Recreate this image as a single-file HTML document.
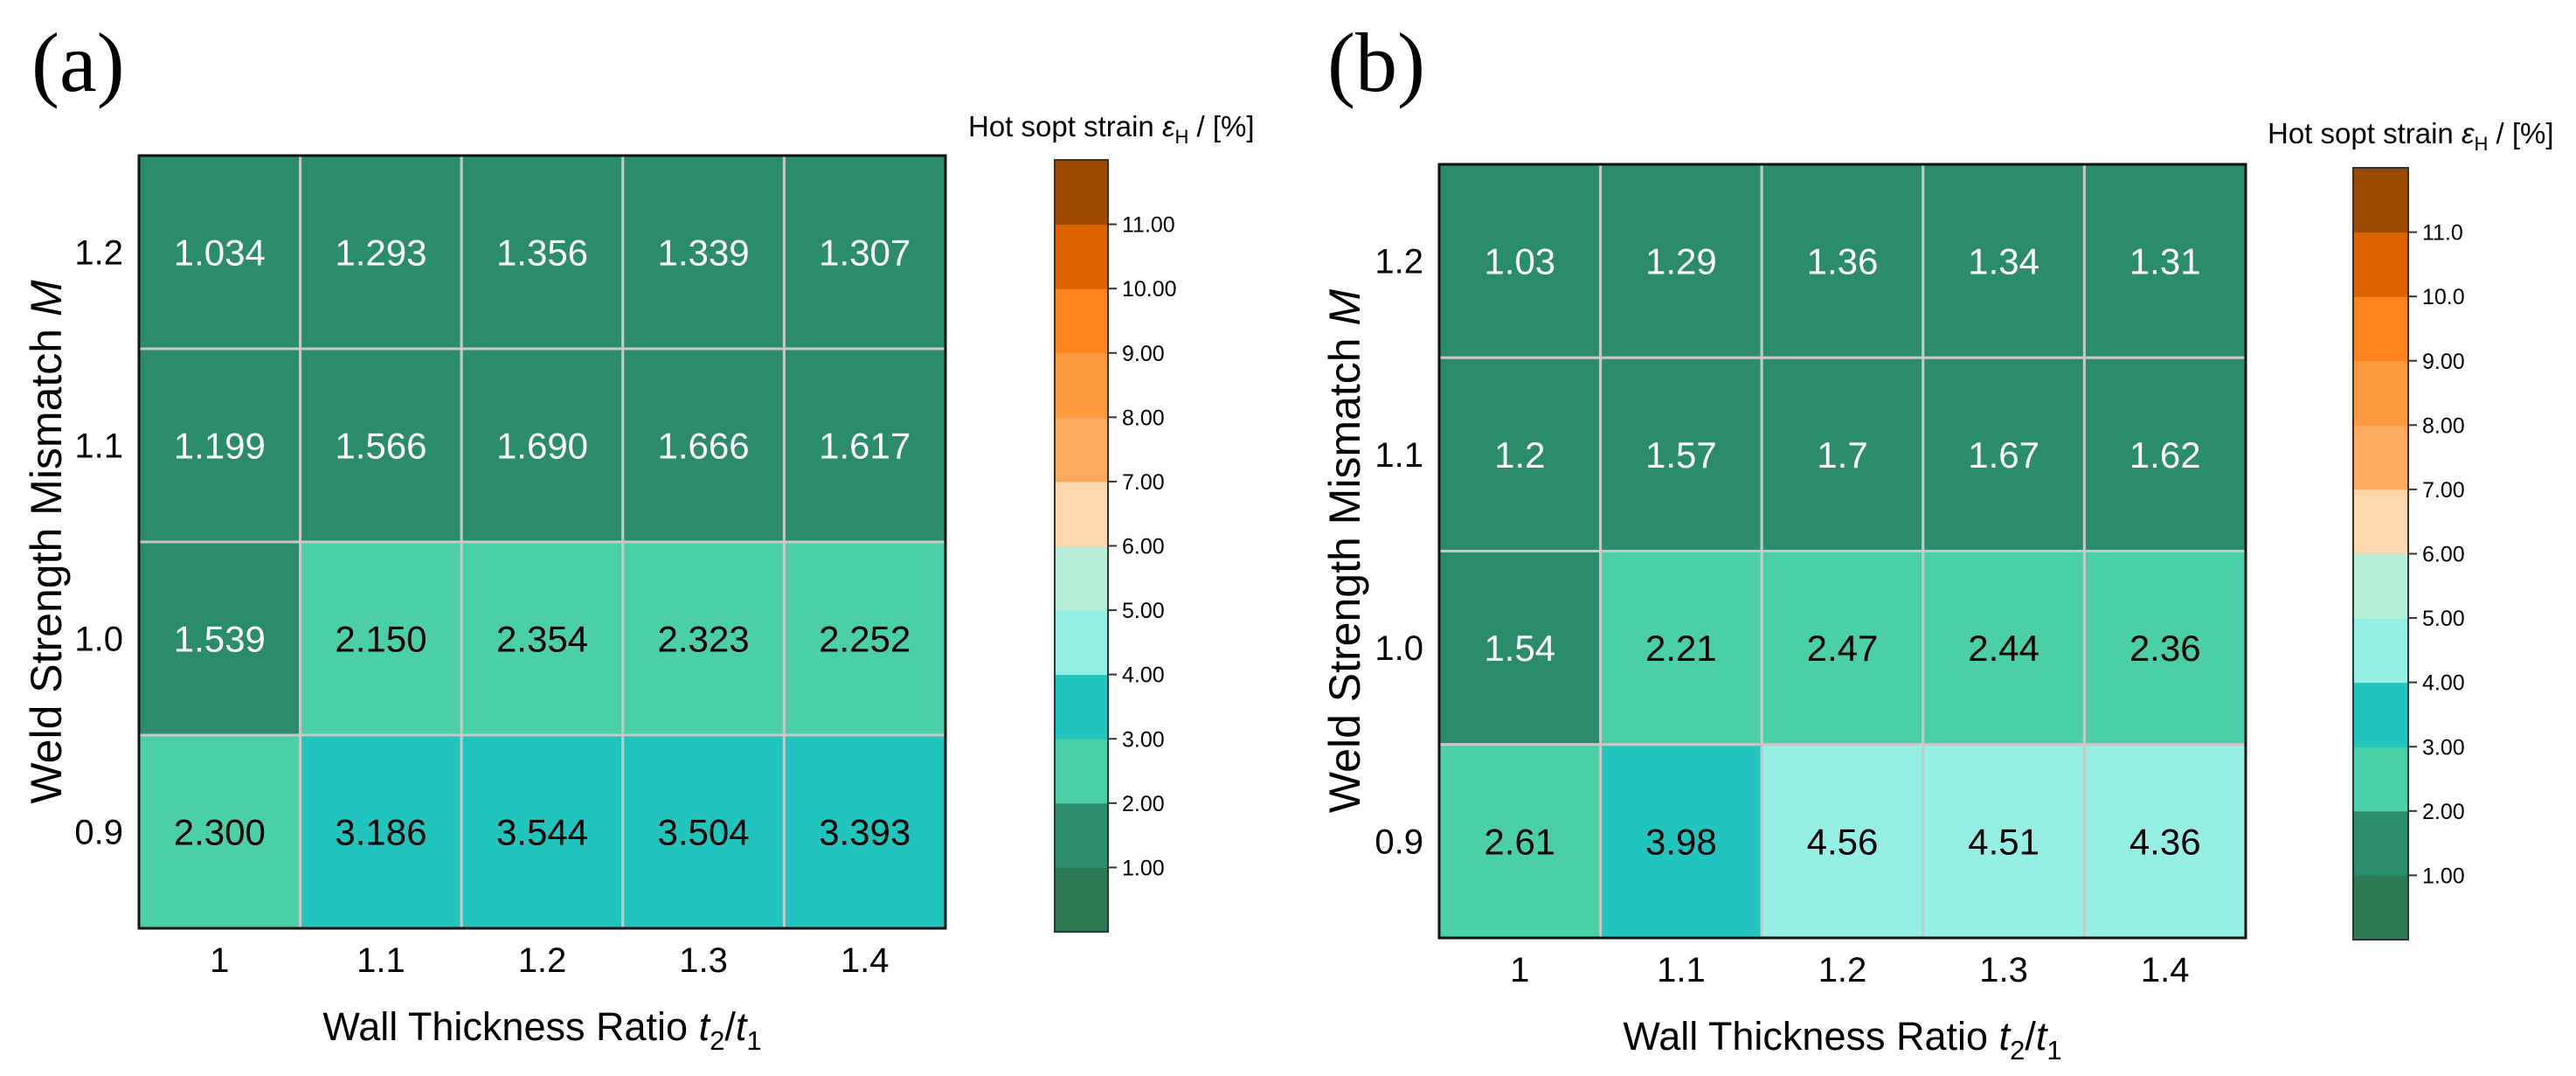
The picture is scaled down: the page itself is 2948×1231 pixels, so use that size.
<!DOCTYPE html>
<html><head><meta charset="utf-8"><style>
html,body{margin:0;padding:0;background:#fff;overflow:hidden;}
svg{display:block;font-family:"Liberation Sans",sans-serif;}
</style></head><body>
<svg id="fig" width="2948" height="1231" viewBox="0 0 2948 1231"></svg>
<script>
const xCats = ["1","1.1","1.2","1.3","1.4"];
const yCats = ["1.2","1.1","1.0","0.9"];
const valuesA = [[1.034,1.293,1.356,1.339,1.307],[1.199,1.566,1.690,1.666,1.617],[1.539,2.150,2.354,2.323,2.252],[2.300,3.186,3.544,3.504,3.393]];
const labelsA = [["1.034","1.293","1.356","1.339","1.307"],["1.199","1.566","1.690","1.666","1.617"],["1.539","2.150","2.354","2.323","2.252"],["2.300","3.186","3.544","3.504","3.393"]];
const valuesB = [[1.03,1.29,1.36,1.34,1.31],[1.2,1.57,1.7,1.67,1.62],[1.54,2.21,2.47,2.44,2.36],[2.61,3.98,4.56,4.51,4.36]];
const labelsB = [["1.03","1.29","1.36","1.34","1.31"],["1.2","1.57","1.7","1.67","1.62"],["1.54","2.21","2.47","2.44","2.36"],["2.61","3.98","4.56","4.51","4.36"]];
const bandColors = ["#2e7a55","#2a8c6c","#4bcfa8","#22c5bd","#96efe5","#b8efd8","#ffd7ae","#fdaa60","#fd9a40","#fd8520","#da6300","#9c4a00"];
const ticksA = ["1.00","2.00","3.00","4.00","5.00","6.00","7.00","8.00","9.00","10.00","11.00"];
const ticksB = ["1.00","2.00","3.00","4.00","5.00","6.00","7.00","8.00","9.00","10.0","11.0"];

const NS="http://www.w3.org/2000/svg";
const svg=document.getElementById('fig');
function mk(tag,attrs,parent,text){const e=document.createElementNS(NS,tag);for(const k in attrs)e.setAttribute(k,attrs[k]);if(text!==undefined)e.textContent=text;(parent||svg).appendChild(e);return e;}
function colorFor(v){return bandColors[Math.max(0,Math.min(11,Math.floor(v)))];}

function panel(cfg){
  const g=mk('g',{});
  
  
  const pl=mk('text',{x:cfg.labX,y:104,'font-size':96,'font-family':'"Liberation Serif",serif'},g,cfg.label);
  
  
  const {L,R,T,B}=cfg;
  const cw=(R-L)/xCats.length, ch=(B-T)/yCats.length;
  const xs=i=>L+i*cw, ys=j=>T+j*ch;
  for(let j=0;j<yCats.length;j++)for(let i=0;i<xCats.length;i++){
    const v=cfg.vals[j][i];
    const r=mk('rect',{x:xs(i),y:ys(j),width:cw,height:ch,fill:colorFor(v),stroke:'#c8c8c8','stroke-width':3},g);
    
    
    const t=mk('text',{x:xs(i)+cw/2,y:ys(j)+ch/2+15,'text-anchor':'middle','font-size':42,fill:v<2?'#fff':'#000'},g,cfg.labs[j][i]);
    
    
  }
  const fr=mk('rect',{x:L,y:T,width:R-L,height:B-T,fill:'none',stroke:'#111','stroke-width':3},g);
  
  
  xCats.forEach((c,i)=>{const t=mk('text',{x:xs(i)+cw/2,y:B+50,'text-anchor':'middle','font-size':40},g,c);
    });
  yCats.forEach((c,j)=>{const t=mk('text',{x:L-18,y:ys(j)+ch/2+14,'text-anchor':'end','font-size':40},g,c);
    });
  const xt=mk('text',{x:(L+R)/2,y:B+128,'text-anchor':'middle','font-size':45},g);
  
  xt.innerHTML='Wall Thickness Ratio <tspan font-style="italic">t</tspan><tspan font-size="31" dy="11">2</tspan><tspan dy="-11">/</tspan><tspan font-style="italic">t</tspan><tspan font-size="31" dy="11">1</tspan>';
  const yt=mk('text',{transform:`translate(${cfg.ytX},${(T+B)/2}) rotate(-90)`,'text-anchor':'middle','font-size':50},g);
  
  yt.innerHTML='Weld Strength Mismatch <tspan font-style="italic">M</tspan>';
  const {cL,cR,cT,cB}=cfg;
  const bh=(cB-cT)/bandColors.length;
  bandColors.forEach((c,k)=>{const r=mk('rect',{x:cL,y:cB-(k+1)*bh,width:cR-cL,height:bh+0.5,fill:c},g);
    });
  const cf=mk('rect',{x:cL,y:cT,width:cR-cL,height:cB-cT,fill:'none',stroke:'#333','stroke-width':2},g);
  
  cfg.ticks.forEach((tk,k)=>{const y=cB-(k+1)*bh;
    mk('line',{x1:cR,x2:cR+10,y1:y,y2:y,stroke:'#333','stroke-width':2},g);
    const t=mk('text',{x:cR+16,y:y+9,'font-size':25},g,tk);
    });
  const ct=mk('text',{x:cfg.ctX,y:cfg.ctY,'font-size':33},g);
  
  ct.innerHTML='Hot sopt strain <tspan font-style="italic">ε</tspan><tspan font-size="22" dy="8">H</tspan><tspan dy="-8"> / [%]</tspan>';
}
panel({name:'panel-a',label:'(a)',labX:36,L:159,R:1082,T:178,B:1062,ytX:70,vals:valuesA,labs:labelsA,cL:1207,cR:1268,cT:183,cB:1066,ticks:ticksA,ctX:1108,ctY:156});
panel({name:'panel-b',label:'(b)',labX:1519,L:1647,R:2570,T:188,B:1073,ytX:1556,vals:valuesB,labs:labelsB,cL:2693,cR:2756,cT:192,cB:1075,ticks:ticksB,ctX:2595,ctY:164});
</script>
</body></html>
